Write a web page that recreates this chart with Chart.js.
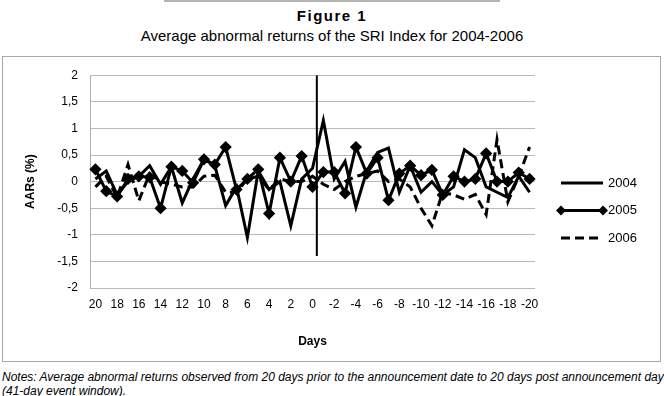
<!DOCTYPE html>
<html>
<head>
<meta charset="utf-8">
<script src="https://cdn.jsdelivr.net/npm/chart.js@4/dist/chart.umd.min.js"></script>
<style>
  body { margin: 0; width: 664px; height: 396px; background: #fff; position: relative; overflow: hidden;
         font-family: "Liberation Sans", Arial, sans-serif; color: #000; }
  #topRule { position: absolute; left: 164px; top: 0; width: 336px; height: 2px; background: #b4b4b4; }
  #fig { position: absolute; left: 0; width: 664px; top: 7px; text-align: center; font-size: 15px; font-weight: bold; letter-spacing: 1.5px; }
  #sub { position: absolute; left: 0; width: 664px; top: 27px; text-align: center; font-size: 15px; }
  #box { position: absolute; left: 2px; top: 56px; width: 659px; height: 306px; box-sizing: border-box; border: 1px solid #a8a8a8; }
  #wrap { position: absolute; left: 0; top: 56px; width: 664px; height: 310px; }
  #notes { position: absolute; left: 2px; top: 370px; font-size: 12px; font-style: italic; line-height: 14px; white-space: nowrap; }
</style>
</head>
<body>
<div id="topRule"></div>
<div id="fig">Figure 1</div>
<div id="sub">Average abnormal returns of the SRI Index for 2004-2006</div>
<div id="box"></div>
<div id="wrap"><canvas id="chart" width="664" height="310"></canvas></div>
<div id="notes">Notes: Average abnormal returns observed from 20 days prior to the announcement date to 20 days post announcement day<br>(41-day event window).</div>
<script>
// days 20 .. -20 (41-day event window)
const days = [20, 19, 18, 17, 16, 15, 14, 13, 12, 11, 10, 9, 8, 7, 6, 5, 4, 3, 2, 1, 0,
  -1, -2, -3, -4, -5, -6, -7, -8, -9, -10, -11, -12, -13, -14, -15, -16, -17, -18, -19, -20];

const aar2004 = [0.05, 0.2, -0.25, 0.0, 0.1, 0.3, -0.05, 0.28, -0.4, 0.05, 0.42, 0.3, -0.45, -0.1, -1.05,
  0.2, -0.15, 0.0, -0.83, 0.05, 0.25,
  1.15, 0.05, 0.38, -0.48, 0.2, 0.55, 0.63, -0.2, 0.3, -0.2, 0.0, -0.25, -0.1, 0.6, 0.45, -0.1, -0.2, -0.3, 0.1, -0.2];

const aar2005 = [0.23, -0.18, -0.28, 0.05, 0.1, 0.08, -0.5, 0.28, 0.2, -0.02, 0.42, 0.32, 0.65, -0.15, 0.05,
  0.23, -0.6, 0.45, 0.0, 0.48, -0.1,
  0.18, 0.18, -0.22, 0.65, 0.15, 0.45, -0.35, 0.15, 0.3, 0.12, 0.22, -0.25, 0.1, 0.0, 0.05, 0.53, 0.0, 0.0, 0.17, 0.05];

const aar2006 = [-0.1, 0.1, -0.3, 0.32, -0.36, 0.15, 0.0, -0.05, -0.1, -0.1, 0.1, 0.12, -0.2, -0.2, 0.05,
  0.1, -0.15, 0.05, 0.0, 0.0, 0.1,
  -0.05, -0.15, 0.0, 0.1, 0.15, 0.2, 0.0, 0.05, -0.1, -0.5, -0.83, -0.2, -0.25, -0.33, -0.24, -0.62, 0.79, -0.38, 0.1, 0.65];

// vertical event-date marker
const eventDay = [-0.4, -0.4];
const eventAar = [2, -1.4];

const yTicks = { min: -2, max: 2, step: 0.5 };
const seriesNames = ['2004', '2005', '2006'];

const FONT = '"Liberation Sans", Arial, sans-serif';
Chart.defaults.font.family = FONT;
Chart.defaults.color = '#000';

const legendPlugin = {
  id: 'sideLegend',
  afterDraw(chart) {
    const ctx = chart.ctx;
    const x0 = 561, x1 = 603, y0 = 127, gap = 27.5;
    ctx.save();
    for (let i = 0; i < 3; i++) {
      const ds = chart.data.datasets[i];
      const y = y0 + i * gap;
      ctx.strokeStyle = '#000';
      ctx.lineWidth = 3;
      ctx.setLineDash(ds.borderDash || []);
      ctx.beginPath();
      ctx.moveTo(x0, y);
      ctx.lineTo(x1, y);
      ctx.stroke();
      ctx.setLineDash([]);
      if (ds.pointRadius > 0) {
        [x0, x1].forEach(px => {
          ctx.fillStyle = '#000';
          ctx.beginPath();
          ctx.moveTo(px, y - 5);
          ctx.lineTo(px + 5, y);
          ctx.lineTo(px, y + 5);
          ctx.lineTo(px - 5, y);
          ctx.closePath();
          ctx.fill();
        });
      }
      ctx.fillStyle = '#000';
      ctx.font = '13px ' + FONT;
      ctx.textBaseline = 'middle';
      ctx.textAlign = 'left';
      ctx.fillText(ds.label, 608, y);
    }
    ctx.restore();
  }
};

new Chart(document.getElementById('chart'), {
  type: 'line',
  data: {
    labels: days.map(String),
    datasets: [
      { label: seriesNames[0], data: aar2004, borderColor: '#000', borderWidth: 3, pointRadius: 0, tension: 0 },
      { label: seriesNames[1], data: aar2005, borderColor: '#000', borderWidth: 3, pointRadius: 4,
        pointStyle: 'rectRot', pointBackgroundColor: '#000', pointBorderColor: '#000', tension: 0 },
      { label: seriesNames[2], data: aar2006, borderColor: '#000', borderWidth: 3, borderDash: [9, 5],
        pointRadius: 0, tension: 0 },
      { label: 'event', xAxisID: 'xe', data: eventDay.map((d, i) => ({ x: d, y: eventAar[i] })),
        borderColor: '#000', borderWidth: 2, pointRadius: 0 }
    ]
  },
  options: {
    responsive: false,
    animation: false,
    layout: { padding: { left: 0, right: 129, top: 17, bottom: 0 } },
    plugins: { legend: { display: false }, tooltip: { enabled: false } },
    scales: {
      x: {
        offset: true,
        grid: { display: false, drawTicks: false },
        border: { display: false },
        ticks: {
          autoSkip: false, maxRotation: 0, padding: 9, font: { size: 12 },
          callback: function(v, i) { return i % 2 === 0 ? this.getLabelForValue(v) : ''; }
        },
        title: { display: true, text: 'Days', font: { size: 12, weight: 'bold' }, padding: { top: 0, bottom: 17 } },
        afterFit(s) { s.height = 78; }
      },
      xe: { type: 'linear', display: false, min: -20.5, max: 20.5, reverse: true },
      y: {
        min: yTicks.min, max: yTicks.max,
        ticks: { stepSize: yTicks.step, padding: 12, font: { size: 12 },
          callback: v => String(v).replace('.', ',') },
        grid: { color: '#b8b8b8', lineWidth: 1, drawTicks: false },
        border: { display: true, color: '#b0b0b0' },
        title: { display: true, text: 'AARs (%)', font: { size: 12, weight: 'bold' }, padding: { top: 23, bottom: 0 } },
        afterFit(s) { s.width = 90; }
      }
    }
  },
  plugins: [legendPlugin]
});
</script>
</body>
</html>
